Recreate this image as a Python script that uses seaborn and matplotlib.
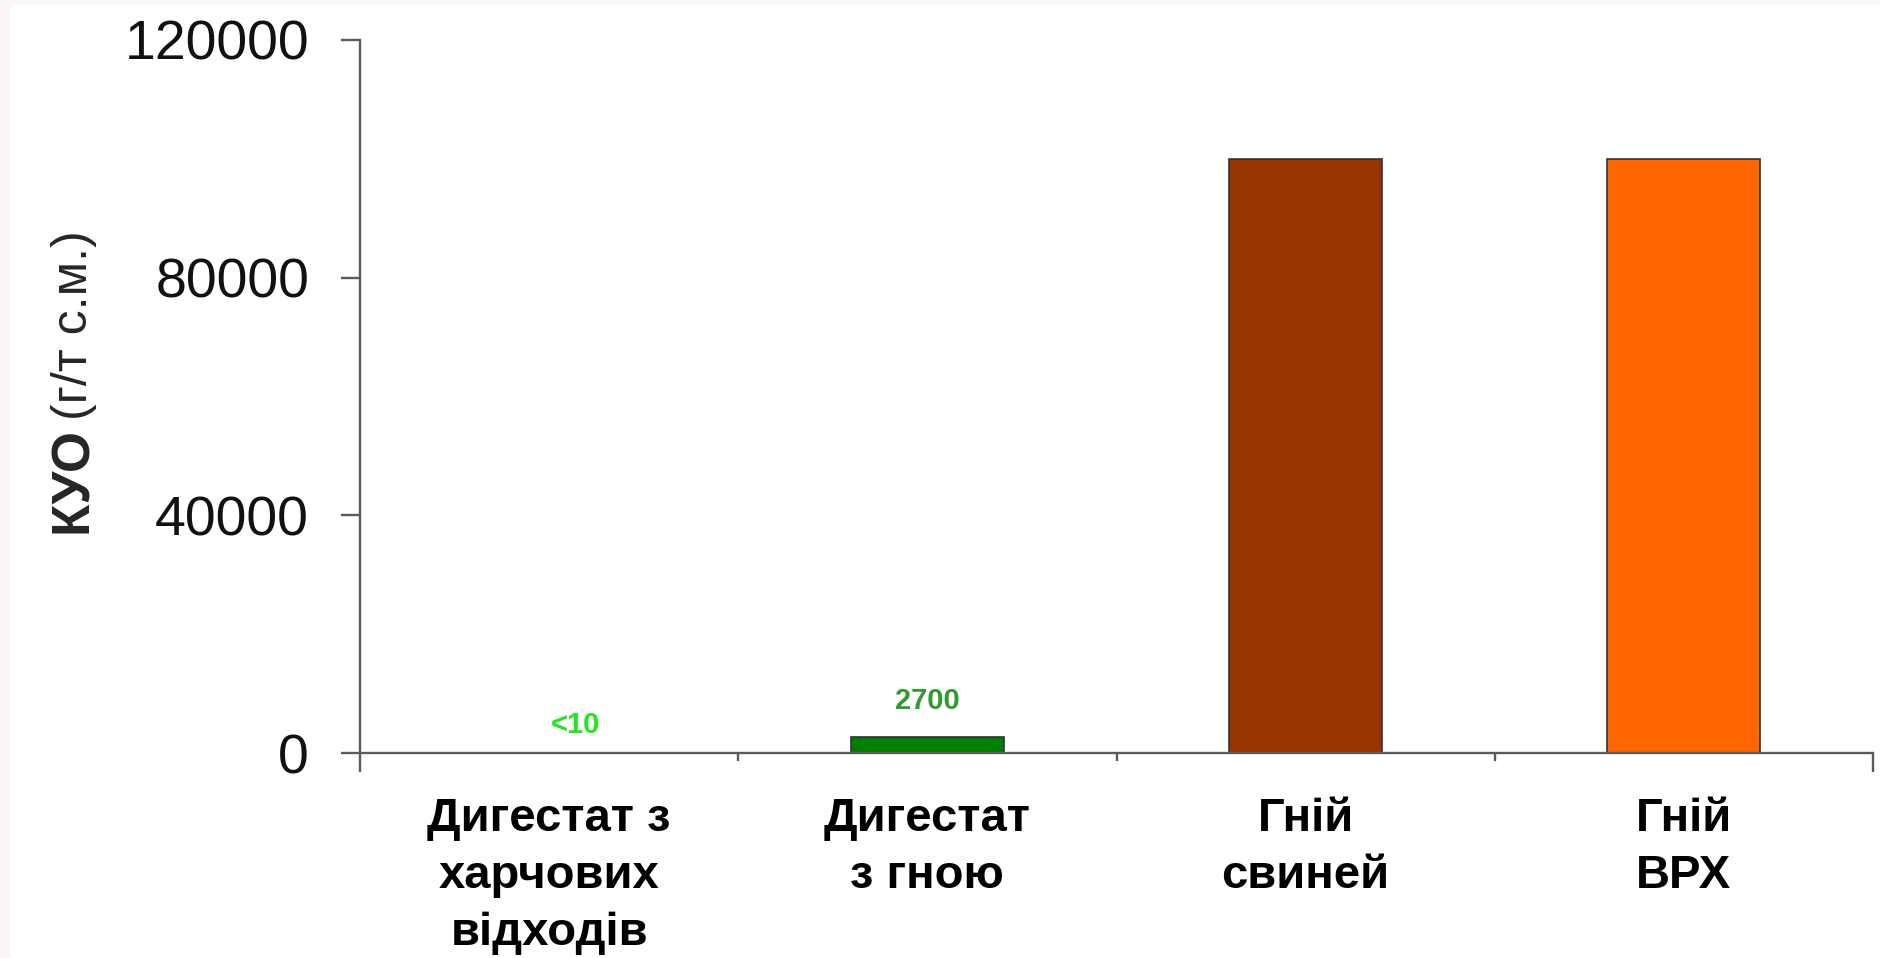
import matplotlib
matplotlib.use("Agg")
import matplotlib.pyplot as plt
import matplotlib.transforms as mtransforms
from matplotlib.patches import Rectangle
import pandas as pd
import seaborn as sns

# Data: coliform count (КУО) per tonne of dry matter
categories = ["Дигестат з\nхарчових\nвідходів", "Дигестат\nз гною", "Гній\nсвиней", "Гній\nВРХ"]
kuo_values = [10, 2700, 100000, 100000]
value_labels = ["<10", "2700", None, None]
y_ticks = [0, 40000, 80000, 120000]

# Styling
bar_colors = ["#00E000", "#008000", "#993300", "#FF6600"]
label_colors = ["#22E622", "#339933", None, None]
label_offsets = [(19, 14), (0, 20), (0, 0), (0, 0)]
axis_color = "#5a5a5a"

sns.set_theme(style="white")
plt.rcParams["font.family"] = ["Liberation Sans", "DejaVu Sans"]
sans = ["Liberation Sans", "DejaVu Sans"]

fig = plt.figure(figsize=(18.8, 9.58), dpi=100)
fig.patch.set_facecolor("white")
# faint frame strips along the top and left edges
fig.patches.append(Rectangle((0, 0), 10 / 1880, 1, transform=fig.transFigure,
                             facecolor="#FBF7F7", edgecolor="none", zorder=0))
fig.patches.append(Rectangle((0, 1 - 5 / 958), 1, 5 / 958, transform=fig.transFigure,
                             facecolor="#FBF7F7", edgecolor="none", zorder=0))

ax = fig.add_axes([360 / 1880, 205 / 958, 1513 / 1880, 713 / 958])

df = pd.DataFrame({"category": categories, "kuo": kuo_values})
sns.barplot(data=df, x="category", y="kuo", hue="category", palette=bar_colors,
            legend=False, width=0.405, saturation=1, edgecolor="#333333",
            linewidth=1.2, ax=ax)

# value labels above the small bars
for i, (v, lab, col, off) in enumerate(zip(kuo_values, value_labels, label_colors, label_offsets)):
    if lab is None:
        continue
    ax.annotate(lab, xy=(i, v), xytext=off, textcoords="offset points",
                ha="center", va="baseline", fontsize=21, fontweight="bold",
                color=col, family=sans)

ax.set_xlim(-0.5, len(categories) - 0.5)
ax.set_ylim(0, 120000)
ax.set_yticks(y_ticks)
ax.set_yticklabels([str(t) for t in y_ticks])
ax.set_xlabel("")
ax.set_ylabel("")

for s in ["top", "right"]:
    ax.spines[s].set_visible(False)
for s in ["left", "bottom"]:
    ax.spines[s].set_color(axis_color)
    ax.spines[s].set_linewidth(1.7)

ax.tick_params(axis="y", which="major", direction="out", length=13.7, width=1.7,
               color=axis_color, pad=23, labelsize=40, labelcolor="#111111", left=True)
ax.tick_params(axis="x", which="major", length=0, pad=32)
for lbl in ax.get_xticklabels():
    lbl.set_family(sans)
    lbl.set_fontweight("bold")
    lbl.set_fontsize(34)
    lbl.set_linespacing(1.37)
    lbl.set_color("#000000")

# category boundary tick marks
ax.set_xticks([0.5, 1.5, 2.5], minor=True)
ax.tick_params(axis="x", which="minor", direction="out", length=5.5, width=1.7,
               color=axis_color, bottom=True)
trans = mtransforms.blended_transform_factory(ax.transData, ax.transAxes)
for xb in [-0.5, len(categories) - 0.5]:
    ax.plot([xb, xb], [0, -0.027], transform=trans, clip_on=False,
            color=axis_color, lw=1.7, solid_capstyle="butt")

# y-axis title: bold abbreviation followed by regular units
fig.text(87 / 1880, 1 - 533 / 958, "КУО", rotation=90, rotation_mode="anchor",
         ha="left", va="baseline", fontsize=38, fontweight="bold", family=sans)
fig.text(87 / 1880, 1 - 420 / 958, "(г/т с.м.)", rotation=90, rotation_mode="anchor",
         ha="left", va="baseline", fontsize=36, family=sans)

fig.savefig("out.png", dpi=100, facecolor=fig.get_facecolor())
